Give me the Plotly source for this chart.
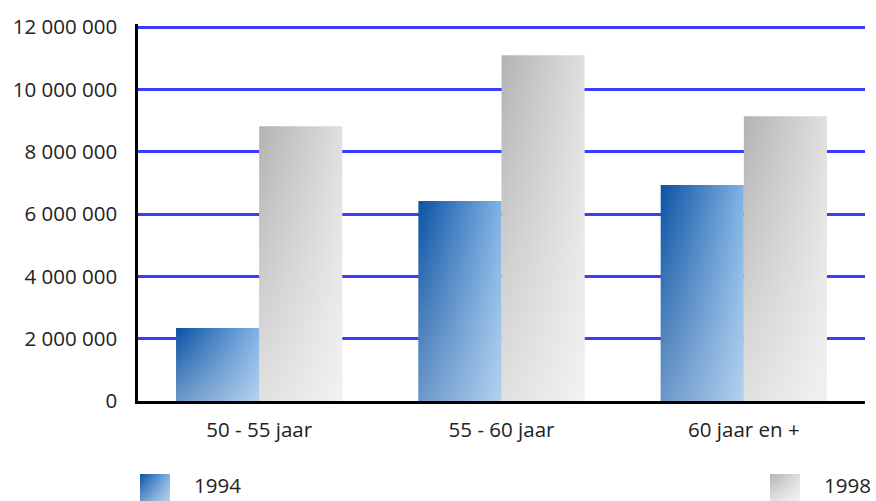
import plotly.graph_objects as go

categories = ["50 - 55 jaar", "55 - 60 jaar", "60 jaar en +"]
series_names = ["1994", "1998"]
values_1994 = [2340000, 6420000, 6930000]
values_1998 = [8820000, 11100000, 9140000]
y_ticks = [0, 2000000, 4000000, 6000000, 8000000, 10000000, 12000000]

series_values = [values_1994, values_1998]
h_scales = [
    [[0, "#0a52a4"], [1, "#80b3e4"]],
    [[0, "#b3b3b3"], [1, "#dfdfdf"]],
]
v_overlays = [
    [[0, "rgba(255,255,255,0.4)"], [1, "rgba(255,255,255,0)"]],
    [[0, "rgba(255,255,255,0.6)"], [1, "rgba(255,255,255,0)"]],
]

BAR_W = 0.343
FONT = dict(family="Open Sans, Noto Sans, sans-serif", size=20.5, color="#222222")

fig = go.Figure()
cat_idx = list(range(len(categories)))


def add_rect(xs, ys, s, **kw):
    fig.add_trace(go.Scatter(
        x=xs, y=ys, mode="lines", fill="toself",
        line=dict(width=0, color="rgba(0,0,0,0)"),
        fillgradient=dict(type="horizontal", colorscale=h_scales[s]),
        showlegend=False, hoverinfo="skip", **kw,
    ))
    fig.add_trace(go.Scatter(
        x=xs, y=ys, mode="lines", fill="toself",
        line=dict(width=0, color="rgba(0,0,0,0)"),
        fillgradient=dict(type="vertical", colorscale=v_overlays[s]),
        showlegend=False, hoverinfo="skip", **kw,
    ))


for s, vals in enumerate(series_values):
    for i, v in zip(cat_idx, vals):
        x0 = i - BAR_W + s * BAR_W
        x1 = x0 + BAR_W
        add_rect([x0, x1, x1, x0, x0], [0, 0, v, v, 0], s, name=series_names[s])

# custom legend (layout decoration) on helper axes, in pixel-like units
legend_x = [140, 770]
for s, lx in enumerate(legend_x):
    add_rect([lx, lx + 30, lx + 30, lx, lx], [0, 0, 1, 1, 0], s, xaxis="x2", yaxis="y2")
    fig.add_annotation(x=lx + 52, y=0, xref="x2", yref="y2", text=series_names[s],
                       showarrow=False, xanchor="left", yanchor="bottom", font=FONT)

fig.update_layout(
    width=876, height=501,
    margin=dict(l=138, r=11, t=24, b=0, autoexpand=False),
    paper_bgcolor="white", plot_bgcolor="white",
    font=FONT,
    showlegend=False,
    xaxis=dict(
        range=[-0.5, 2.5], tickvals=cat_idx, ticktext=categories,
        showgrid=False, zeroline=False, showline=True, linecolor="black", linewidth=2.5,
        ticks="", ticklabelstandoff=9, fixedrange=True, anchor="y", automargin=False,
    ),
    yaxis=dict(
        domain=[0.2096, 1], range=[0, 12100000], tickvals=y_ticks,
        ticktext=[f"{v:,}".replace(",", " ") for v in y_ticks],
        showgrid=True, gridcolor="#3c3cff", gridwidth=2.5,
        zeroline=False, showline=True, linecolor="black", linewidth=2.5,
        ticks="", ticklabelstandoff=14, fixedrange=True, automargin=False,
    ),
    xaxis2=dict(domain=[0, 1], range=[138, 865], visible=False, anchor="y2",
                fixedrange=True, automargin=False),
    yaxis2=dict(domain=[0, 0.0566], range=[0, 1], visible=False, anchor="x2",
                fixedrange=True, automargin=False),
)

fig.write_html("out.html", config={"displayModeBar": False},
               post_script="document.body.style.margin='0';document.body.style.padding='0';")
